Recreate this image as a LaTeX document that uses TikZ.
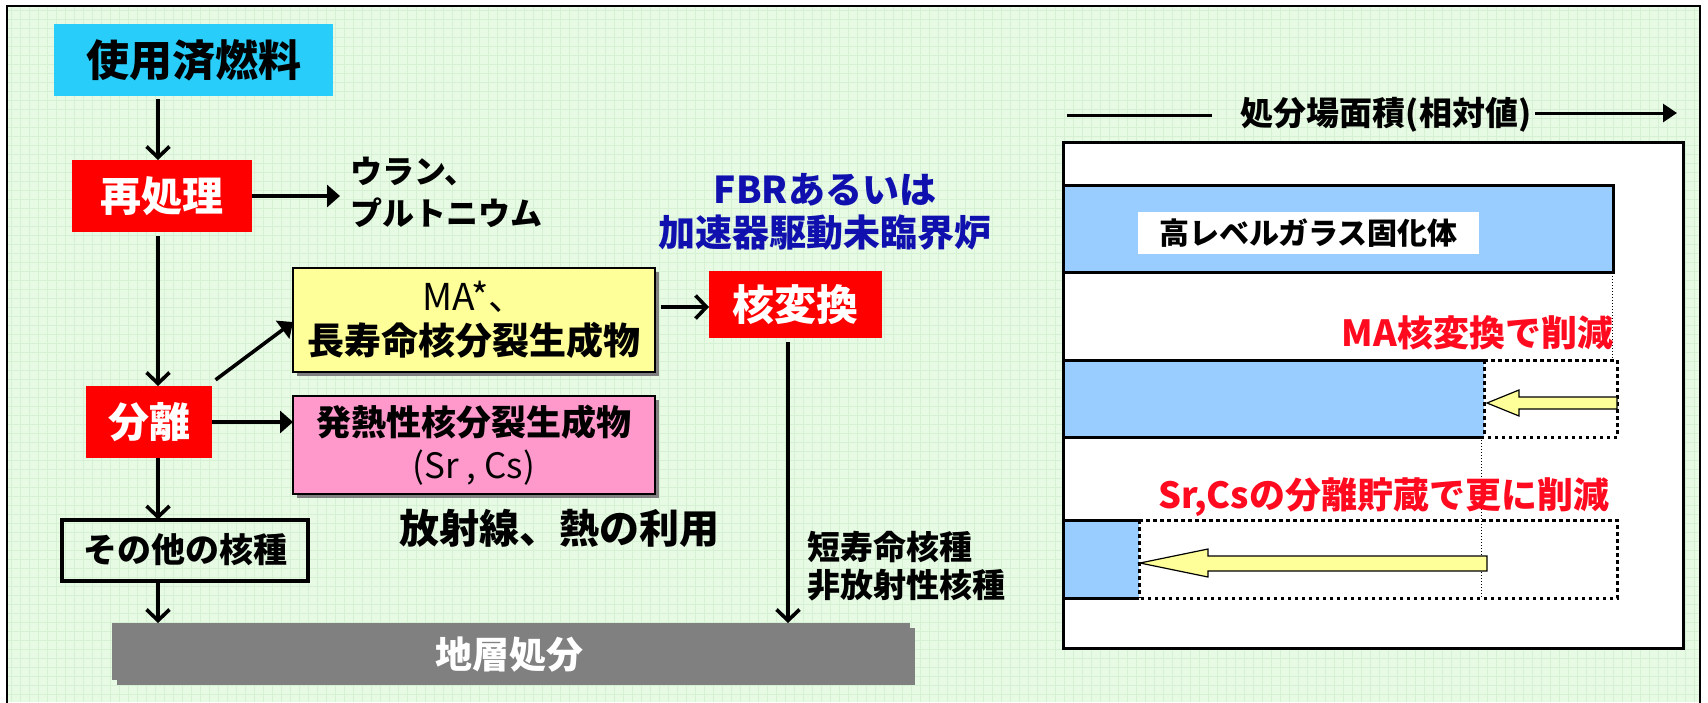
\documentclass[tikz,border=0pt]{standalone}
\usepackage{fontspec}
\setmainfont{Noto Sans CJK JP}
\usetikzlibrary{arrows.meta,shadows}
\definecolor{bgG}{RGB}{230,250,228}
\definecolor{gridG}{RGB}{214,240,212}
\definecolor{fuelC}{RGB}{40,205,250}
\definecolor{redC}{RGB}{255,0,0}
\definecolor{yelC}{RGB}{255,255,153}
\definecolor{pinkC}{RGB}{255,153,204}
\definecolor{grayC}{RGB}{128,128,128}
\definecolor{blueT}{RGB}{16,16,175}
\definecolor{barC}{RGB}{153,204,255}
\definecolor{redT}{RGB}{255,10,30}
\tikzset{
  fsz/.style={font=\fontsize{#1}{#1}\selectfont\bfseries},
  plain/.style={inner sep=0pt, outer sep=0pt},
  redbox/.style={plain, fill=redC, text=white},
  shad/.style={drop shadow={fill=grayC, opacity=1, shadow xshift=4pt, shadow yshift=-4pt}},
  openarr/.style={line width=3.6pt, -{Straight Barb[length=11pt,width=23pt]}},
  fillarr/.style={line width=3.6pt, -{Triangle[length=13pt,width=22pt]}},
  thickdot/.style={line width=3pt, dash pattern=on 3.5pt off 3.5pt},
  thindot/.style={line width=1pt, dash pattern=on 1pt off 2pt},
  blockarr/.style={fill=yelC, draw=black, line width=1.2pt, line join=miter},
}
\begin{document}
\begin{tikzpicture}[x=1pt,y=-1pt]
\useasboundingbox (0,0) rectangle (1708,702);
% background
\fill[white] (0,0) rectangle (1708,702);
\fill[bgG] (7,6) rectangle (1700,702);
\foreach \gx in {11,20,...,1700} \draw[gridG,line width=0.6pt] (\gx,6) -- (\gx,702);
\foreach \gy in {10,19,...,702} \draw[gridG,line width=0.6pt] (7,\gy) -- (1700,\gy);
\draw[line width=2pt] (7,712) -- (7,6) -- (1700,6) -- (1700,712);

\coordinate (colx) at (158,0);
\coordinate (trx) at (788,0);

% left flow
\node[plain, fill=fuelC, minimum width=279pt, minimum height=72pt, fsz=43] (fuel) at (193.5,60) {使用済燃料};
\node[redbox, minimum width=180pt, minimum height=72pt, fsz=41] (repro) at (162,196) {再処理};
\node[plain, anchor=west, align=left, font=\fontsize{32}{42}\selectfont\bfseries] (ulab) at (350,192) {ウラン、\\プルトニウム};
\node[redbox, minimum width=126pt, minimum height=72pt, fsz=41] (sep) at (149,422) {分離};
\node[plain, draw=black, line width=4pt, minimum width=246pt, minimum height=61pt, fsz=34] (other) at (185,550) {その他の核種};
\node[plain, fill=grayC, minimum width=798pt, minimum height=57pt,
      drop shadow={fill=grayC, opacity=1, shadow xshift=5pt, shadow yshift=-5pt}] (gray) at (511,651.5) {};
\node[plain, text=white, fsz=37] (graylab) at (509,655) {地層処分};

\node[plain, fill=yelC, draw=black, line width=2pt, shad, minimum width=362pt, minimum height=104pt,
      align=center, font=\fontsize{37}{44}\selectfont] (yellow) at (474,320)
      {MA*、\\\bfseries 長寿命核分裂生成物};
\node[plain, fill=pinkC, draw=black, line width=2pt, shad, minimum width=362pt, minimum height=98pt,
      align=center, font=\fontsize{35}{43}\selectfont] (pink) at (474,445)
      {\bfseries 発熱性核分裂生成物\\(Sr , Cs)};
\node[plain, fsz=40] (use) at (559,528) {放射線、熱の利用};

\node[plain, text=blueT, align=center, font=\fontsize{37}{43}\selectfont\bfseries] (fbr) at (825,211.5) {FBRあるいは\\加速器駆動未臨界炉};
\node[redbox, minimum width=173pt, minimum height=67pt, fsz=42] (transm) at (795.5,304.5) {核変換};
\node[plain, anchor=west, align=left, font=\fontsize{33}{38}\selectfont\bfseries] (short) at (807,566) {短寿命核種\\非放射性核種};

% left arrows
\draw[openarr, shorten <=3pt] (fuel.south -| colx) -- (repro.north -| colx);
\draw[openarr, shorten <=4pt] (repro.south -| colx) -- (sep.north -| colx);
\draw[openarr] (sep.south -| colx) -- (other.north -| colx);
\draw[openarr] (other.south -| colx) -- (gray.north -| colx);
\draw[fillarr, shorten >=10pt] (repro.east) -- (repro.east -| ulab.west);
\draw[fillarr, shorten <=2pt] ([xshift=2pt,yshift=5pt]sep.north east) -- ([yshift=-2pt]yellow.west);
\draw[fillarr] (sep.east) -- (sep.east -| pink.west);
\draw[openarr, shorten <=6pt] ([yshift=-2.5pt]transm.west -| yellow.east) -- ([yshift=-2.5pt]transm.west);
\draw[openarr, shorten <=4pt] (transm.south -| trx) -- (gray.north -| trx);

% right panel
\coordinate (axL) at (1067,115);
\coordinate (axM) at (1212,115);
\coordinate (axA) at (1535,113);
\coordinate (axB) at (1677,113);
\node[plain, fsz=33] (title) at (1386,115) {処分場面積(相対値)};
\draw[line width=3pt] (axL) -- (axM);
\draw[line width=3pt, -{Triangle[length=14pt,width=18pt]}] (axA) -- (axB);

\node[plain, fill=white, draw=black, line width=3pt, minimum width=620pt, minimum height=506pt] (panel) at (1373,395) {};
\node[plain, fill=barC, draw=black, line width=3pt, minimum width=550pt, minimum height=87pt] (bar1) at (1338,228.5) {};
\node[plain, fill=white, minimum width=341pt, minimum height=42pt, fsz=30] (bar1lab) at (1308.5,233) {高レベルガラス固化体};

\coordinate (g2) at (1617,360);
\coordinate (g2b) at (1617,437);
\node[plain, fill=barC, minimum width=421pt, minimum height=77pt] (bar2) at (1273.5,398.5) {};
\draw[line width=3pt] (bar2.north east) -- (bar2.north west) -- (bar2.south west) -- (bar2.south east);
\draw[thickdot] (bar2.north east) -- (bar2.south east);
\draw[thickdot] (bar2.north east) -- (g2) -- (g2b) -- (bar2.south east);
\draw[thindot] (1612,255) -- (1612,360);
\node[plain, anchor=east, text=redT, fsz=36] (malab) at (1613,333) {MA核変換で削減};

\coordinate (g3) at (1617,520);
\coordinate (g3b) at (1617,598);
\node[plain, fill=barC, minimum width=76pt, minimum height=78pt] (bar3) at (1101,559) {};
\draw[line width=3pt] (bar3.north east) -- (bar3.north west) -- (bar3.south west) -- (bar3.south east);
\draw[thickdot] (bar3.north east) -- (bar3.south east);
\draw[thickdot] (bar3.north east) -- (g3) -- (g3b) -- (bar3.south east);
\draw[thindot] (1481,437) -- (1481,598);
\node[plain, anchor=east, text=redT, fsz=36] (srlab) at (1609,497) {Sr,Csの分離貯蔵で更に削減};

% yellow block arrows
\draw[blockarr] (1617,397) -- (1519,397) -- (1519,390) -- (1487,403) -- (1519,416) -- (1519,409) -- (1617,409) -- cycle;
\draw[blockarr] (1487,556) -- (1208,556) -- (1208,549) -- (1140,563) -- (1208,577) -- (1208,571) -- (1487,571) -- cycle;
\end{tikzpicture}
\end{document}
